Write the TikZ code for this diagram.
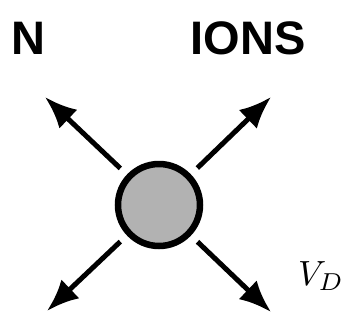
\documentclass[tikz,border=0pt]{standalone}
\usepackage{amsmath}
\usepackage{fontspec}
\setmainfont{Liberation Sans}
\usetikzlibrary{arrows.meta}

\begin{document}
\begin{tikzpicture}[x=1pt,y=-1pt,
    flow/.style={line width=5pt,-{Latex[length=32pt,width=26pt]},shorten <=9pt},
    label/.style={inner sep=0pt,font=\fontsize{47}{50}\selectfont\bfseries}]
  \useasboundingbox (0,0) rectangle (351,322);
  \node[circle,draw,line width=6.5pt,fill=black!30,minimum size=82pt,inner sep=0pt] (ion) at (159,205) {};
  \coordinate (ul) at (45,97);
  \coordinate (ur) at (271,97);
  \coordinate (ll) at (47,311);
  \coordinate (lr) at (271,312);
  \draw[flow] (ion) -- (ul);
  \draw[flow] (ion) -- (ur);
  \draw[flow] (ion) -- (ll);
  \draw[flow] (ion) -- (lr);
  \node[label] (n) at (28,38) {N};
  \node[label] (ions) at (248,38) {IONS};
  \node[inner sep=0pt,scale=3.5] (vd) at (321,276) {$V_D$};
\end{tikzpicture}
\end{document}
